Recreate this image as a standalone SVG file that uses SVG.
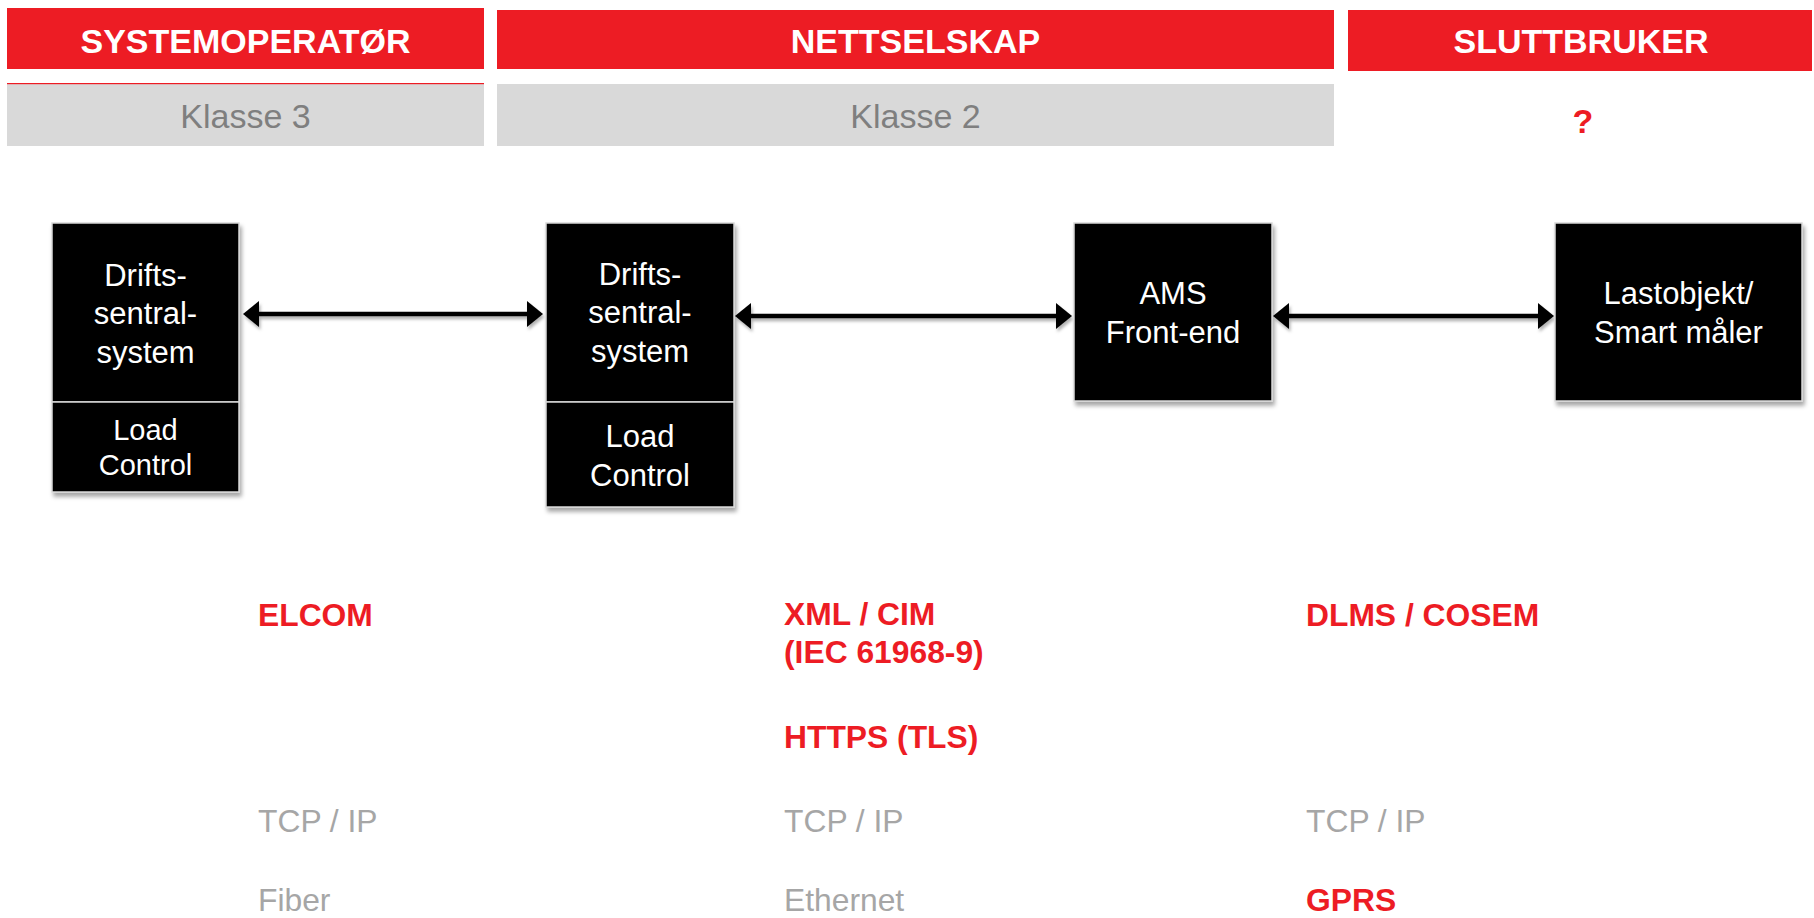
<svg xmlns="http://www.w3.org/2000/svg" width="1814" height="918" viewBox="0 0 1814 918">
<style>
text{font-family:"Liberation Sans",Arial,sans-serif}
.hbar{fill:#ED1C24}
.htxt{fill:#fff;font-size:34px;font-weight:bold;text-anchor:middle}
.gbox{fill:#D9D9D9}
.ktxt{fill:#7F7F7F;font-size:34px;text-anchor:middle}
.node{fill:#000;stroke:#D8D8D8;stroke-width:1.5}
.ntxt{fill:#fff;font-size:31px;text-anchor:middle}
.ltxt{fill:#fff;font-size:29px;text-anchor:middle}
.red{fill:#ED1C24;font-size:31.8px;font-weight:bold}
.gray{fill:#A6A6A6;font-size:31.8px}
.conn{stroke:#000;stroke-width:4.5;fill:none;marker-start:url(#ah);marker-end:url(#ah)}
</style>
<defs>
<filter id="sh" x="-10%" y="-10%" width="125%" height="125%">
<feDropShadow dx="2" dy="4" stdDeviation="2" flood-color="#000" flood-opacity="0.35"/>
</filter>
<filter id="shc" filterUnits="userSpaceOnUse" x="0" y="250" width="1814" height="130">
<feDropShadow dx="1.5" dy="3" stdDeviation="1.5" flood-color="#000" flood-opacity="0.3"/>
</filter>
<marker id="ah" viewBox="0 0 16 26" refX="1" refY="13" markerWidth="16" markerHeight="26" markerUnits="userSpaceOnUse" orient="auto-start-reverse">
<path d="M0,0 L16,13 L0,26 Z" fill="#000"/>
</marker>
</defs>
<rect width="1814" height="918" fill="#fff"/>
<g id="header-systemoperator">
<rect class="hbar" x="7" y="8" width="477" height="61"/>
<text class="htxt" x="245.5" y="53">SYSTEMOPERATØR</text>
<rect class="gbox" x="7" y="83" width="477" height="63"/>
<rect x="7" y="83" width="477" height="1.2" fill="#ED1C24"/>
<text class="ktxt" x="245.5" y="128">Klasse 3</text>
</g>
<g id="header-nettselskap">
<rect class="hbar" x="497" y="10" width="837" height="59"/>
<text class="htxt" x="915.5" y="53">NETTSELSKAP</text>
<rect class="gbox" x="497" y="84" width="837" height="62"/>
<text class="ktxt" x="915.5" y="128">Klasse 2</text>
</g>
<g id="header-sluttbruker">
<rect class="hbar" x="1348" y="10" width="464" height="61"/>
<text class="htxt" x="1581" y="53">SLUTTBRUKER</text>
<text class="htxt" x="1583" y="133" style="fill:#ED1C24">?</text>
</g>
<g id="connectors" filter="url(#shc)">
<line class="conn" x1="258" y1="314" x2="528" y2="314"/>
<line class="conn" x1="750" y1="316" x2="1057" y2="316"/>
<line class="conn" x1="1288" y1="316" x2="1539" y2="316"/>
</g>
<g id="node-drift1">
<g filter="url(#sh)">
<rect class="node" x="52" y="223" width="187" height="179"/>
<rect class="node" x="52" y="402" width="187" height="90"/>
</g>
<text class="ntxt" x="145.5" y="286">Drifts-</text>
<text class="ntxt" x="145.5" y="324">sentral-</text>
<text class="ntxt" x="145.5" y="363">system</text>
<text class="ltxt" x="145.5" y="440">Load</text>
<text class="ltxt" x="145.5" y="475">Control</text>
</g>
<g id="node-drift2">
<g filter="url(#sh)">
<rect class="node" x="546" y="223" width="188" height="179"/>
<rect class="node" x="546" y="402" width="188" height="105"/>
</g>
<text class="ntxt" x="640" y="285">Drifts-</text>
<text class="ntxt" x="640" y="323">sentral-</text>
<text class="ntxt" x="640" y="362">system</text>
<text class="ntxt" x="640" y="447">Load</text>
<text class="ntxt" x="640" y="486">Control</text>
</g>
<g id="node-ams">
<rect class="node" filter="url(#sh)" x="1074" y="223" width="198" height="178"/>
<text class="ntxt" x="1173" y="304">AMS</text>
<text class="ntxt" x="1173" y="343">Front-end</text>
</g>
<g id="node-smartmaler">
<rect class="node" filter="url(#sh)" x="1555" y="223" width="247" height="178"/>
<text class="ntxt" x="1678.5" y="304">Lastobjekt/</text>
<text class="ntxt" x="1678.5" y="343">Smart måler</text>
</g>
<g id="protocols">
<text class="red" x="258" y="626">ELCOM</text>
<text class="gray" x="258" y="832">TCP / IP</text>
<text class="gray" x="258" y="911">Fiber</text>
<text class="red" x="784" y="625">XML / CIM</text>
<text class="red" x="784" y="663">(IEC 61968-9)</text>
<text class="red" x="784" y="748">HTTPS (TLS)</text>
<text class="gray" x="784" y="832">TCP / IP</text>
<text class="gray" x="784" y="911">Ethernet</text>
<text class="red" x="1306" y="626">DLMS / COSEM</text>
<text class="gray" x="1306" y="832">TCP / IP</text>
<text class="red" x="1306" y="911">GPRS</text>
</g>
</svg>
